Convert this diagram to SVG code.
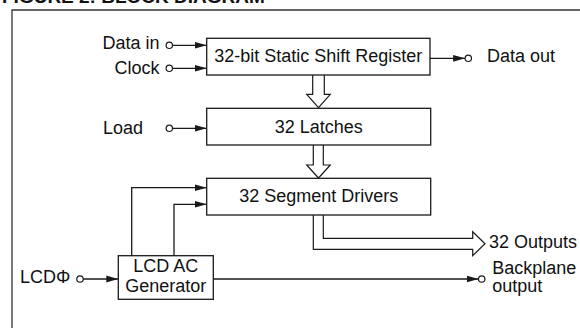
<svg xmlns="http://www.w3.org/2000/svg" width="580" height="328" viewBox="0 0 580 328">
<style>
text{font-family:"Liberation Sans",Arial,sans-serif;font-size:18px;fill:#111}
.t{font-weight:bold;font-size:19px}
.m{text-anchor:middle}
.e{text-anchor:end}
.box{fill:#fff;stroke:#1a1a1a;stroke-width:1.3}
.ln{fill:none;stroke:#1a1a1a;stroke-width:1.3}
.hol{fill:#fff;stroke:#1a1a1a;stroke-width:1.2}
.pin{fill:#fff;stroke:#1a1a1a;stroke-width:1.2}
.frame{fill:none;stroke:#333;stroke-width:1.3}
</style>
<defs>
<marker id="ah" viewBox="0 0 12 8" refX="12" refY="4" markerWidth="12" markerHeight="8" markerUnits="userSpaceOnUse" orient="auto">
<path d="M0,0.6 L12,4 L0,7.4 z" fill="#1a1a1a"/>
</marker>
</defs>
<text class="t" x="2" y="3">FIGURE 2:  BLOCK DIAGRAM</text>
<path class="frame" d="M12,328 V10 H580"/>

<g id="connectors">
<line class="ln" x1="172.5" y1="45.3" x2="206.7" y2="45.3" marker-end="url(#ah)"/>
<line class="ln" x1="172.5" y1="68.3" x2="206.7" y2="68.3" marker-end="url(#ah)"/>
<line class="ln" x1="430" y1="58.3" x2="465.1" y2="58.3" marker-end="url(#ah)"/>
<line class="ln" x1="172.5" y1="128.3" x2="206.7" y2="128.3" marker-end="url(#ah)"/>
<polyline class="ln" points="131.7,255.7 131.7,187.7 206.7,187.7" marker-end="url(#ah)"/>
<polyline class="ln" points="174,255.7 174,204.3 206.7,204.3" marker-end="url(#ah)"/>
<line class="ln" x1="83.2" y1="279" x2="118.3" y2="279" marker-end="url(#ah)"/>
<line class="ln" x1="213.3" y1="279" x2="478.5" y2="279" marker-end="url(#ah)"/>
<polyline class="hol" points="312.7,75 312.7,94.3 306.7,94.3 318.5,107.7 330.3,94.3 324.3,94.3 324.3,75"/>
<polyline class="hol" points="313.3,145 313.3,165 306.7,165 318.5,178 330.3,165 323.3,165 323.3,145"/>
<polyline class="hol" points="313.3,215 313.3,249.3 472.7,249.3 472.7,255.7 485,243.7 472.7,231.7 472.7,238.3 323.3,238.3 323.3,215"/>
</g>

<g id="pin-datain"><circle class="pin" cx="169.3" cy="45.3" r="3.2"/><text class="e" x="159.5" y="48.8">Data in</text></g>
<g id="pin-clock"><circle class="pin" cx="169.3" cy="68.3" r="3.2"/><text class="e" x="159.5" y="74">Clock</text></g>
<g id="pin-dataout"><circle class="pin" cx="468.3" cy="58.3" r="3.2"/><text x="487" y="62.3">Data out</text></g>
<g id="pin-load"><circle class="pin" cx="169.3" cy="128.3" r="3.2"/><text x="103" y="134">Load</text></g>
<g id="pin-lcdphi"><circle class="pin" cx="80" cy="279" r="3.2"/><text x="20" y="283.3">LCDΦ</text></g>
<g id="pin-backplane"><circle class="pin" cx="481.7" cy="279" r="3.2"/><text x="492.3" y="274">Backplane</text><text x="492.3" y="291.7">output</text></g>
<g id="label-outputs"><text x="489" y="248.3">32 Outputs</text></g>

<g id="shift-register"><rect class="box" x="206.7" y="38.3" width="223.3" height="36.7"/><text class="m" x="318.3" y="62.3">32-bit Static Shift Register</text></g>
<g id="latches"><rect class="box" x="206.7" y="108.3" width="224" height="36.7"/><text class="m" x="318.7" y="133.3">32 Latches</text></g>
<g id="segment-drivers"><rect class="box" x="206.7" y="178.3" width="224" height="36.7"/><text class="m" x="318.7" y="201.7">32 Segment Drivers</text></g>
<g id="lcd-ac-generator"><rect class="box" x="118.3" y="255.7" width="95" height="43.6"/><text class="m" x="165.8" y="271.7">LCD AC</text><text class="m" x="165.8" y="291.7">Generator</text></g>
</svg>
